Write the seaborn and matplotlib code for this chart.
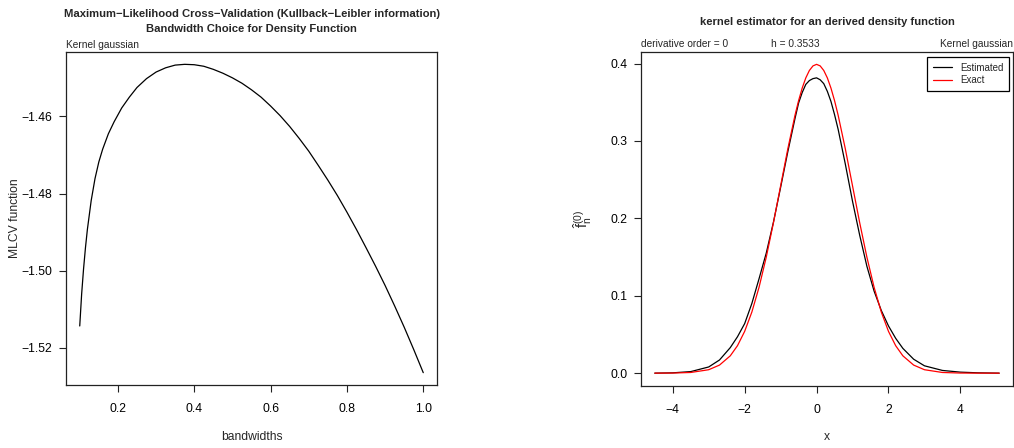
import matplotlib
matplotlib.use("Agg")
import matplotlib.pyplot as plt
import numpy as np
import pandas as pd
import seaborn as sns

# Maximum-likelihood cross-validation criterion over the bandwidth grid
bandwidths = [0.100, 0.105, 0.110, 0.115, 0.120, 0.130, 0.140, 0.150, 0.160, 0.175,
              0.190, 0.210, 0.230, 0.250, 0.275, 0.300, 0.325, 0.350, 0.375, 0.400,
              0.425, 0.450, 0.475, 0.500, 0.525, 0.550, 0.575, 0.600, 0.625, 0.650,
              0.675, 0.700, 0.725, 0.750, 0.775, 0.800, 0.825, 0.850, 0.875, 0.900,
              0.925, 0.950, 0.975, 1.000]
mlcv = [-1.5143, -1.5060, -1.4995, -1.4940, -1.4893, -1.4818, -1.4761, -1.4718, -1.4685, -1.4645,
        -1.4614, -1.4578, -1.4550, -1.4525, -1.4502, -1.4485, -1.4474, -1.4467, -1.4465, -1.4466,
        -1.4470, -1.4478, -1.4488, -1.4500, -1.4514, -1.4531, -1.4550, -1.4573, -1.4598, -1.4626,
        -1.4657, -1.4690, -1.4727, -1.4765, -1.4805, -1.4848, -1.4893, -1.4940, -1.4988, -1.5038,
        -1.5091, -1.5146, -1.5204, -1.5264]

# Kernel density estimate (h = 0.3533) and the exact N(0, 1) density
grid_x = [-4.5, -4.0, -3.5, -3.0, -2.7, -2.4, -2.2, -2.0, -1.8, -1.6,
          -1.4, -1.2, -1.0, -0.8, -0.6, -0.5, -0.4, -0.3, -0.2, -0.1,
          0.0, 0.1, 0.2, 0.3, 0.4, 0.5, 0.6, 0.8, 1.0, 1.2,
          1.4, 1.6, 1.8, 2.0, 2.2, 2.4, 2.7, 3.0, 3.5, 4.0,
          4.5, 5.08]
estimated = [0.0000, 0.0004, 0.0020, 0.0080, 0.0170, 0.0330, 0.0470, 0.0640, 0.0900, 0.1220,
             0.1550, 0.1950, 0.2400, 0.2860, 0.3290, 0.3490, 0.3625, 0.3730, 0.3780, 0.3805,
             0.3815, 0.3790, 0.3740, 0.3640, 0.3510, 0.3340, 0.3150, 0.2700, 0.2220, 0.1780,
             0.1380, 0.1060, 0.0810, 0.0610, 0.0450, 0.0320, 0.0180, 0.0095, 0.0035, 0.0013,
             0.0004, 0.0000]
exact = [0.00002, 0.00013, 0.00087, 0.00443, 0.01042, 0.02239, 0.03547, 0.05399, 0.07895, 0.11092,
         0.14973, 0.19419, 0.24197, 0.28969, 0.33322, 0.35207, 0.36827, 0.38139, 0.39104, 0.39695,
         0.39894, 0.39695, 0.39104, 0.38139, 0.36827, 0.35207, 0.33322, 0.28969, 0.24197, 0.19419,
         0.14973, 0.11092, 0.07895, 0.05399, 0.03547, 0.02239, 0.01042, 0.00443, 0.00087, 0.00013,
         0.00002, 0.00000]

bw_ticks = [0.2, 0.4, 0.6, 0.8, 1.0]
mlcv_ticks = [-1.52, -1.50, -1.48, -1.46]
x_ticks = [-4, -2, 0, 2, 4]
dens_ticks = [0.0, 0.1, 0.2, 0.3, 0.4]

sns.set_theme(style="ticks")
plt.rcParams["font.family"] = ["Liberation Sans", "DejaVu Sans"]
plt.rcParams["mathtext.default"] = "regular"

W, H = 1014, 448
fig = plt.figure(figsize=(W / 100, H / 100), dpi=100)
ax1 = fig.add_axes([66 / W, (H - 385) / H, 371 / W, 333 / H])
ax2 = fig.add_axes([641 / W, (H - 385.5) / H, 372 / W, 333.5 / H])

TITLE_FS = 8.15
SMALL_FS = 7.3
LABEL_FS = 8.7


def padded(vals):
    lo, hi = min(vals), max(vals)
    r = hi - lo
    return lo - 0.04 * r, hi + 0.04 * r


def style_axes(ax):
    for sp in ax.spines.values():
        sp.set_visible(True)
        sp.set_color("#222222")
        sp.set_linewidth(0.9)
    ax.tick_params(direction="out", length=5.2, width=0.8, color="#222222",
                   labelsize=LABEL_FS, labelcolor="black", pad=4.5)
    ax.tick_params(axis="x", pad=8)
    ax.grid(False)


# ---- left panel: MLCV function ----
sns.lineplot(x=bandwidths, y=mlcv, ax=ax1, color="black", linewidth=0.9, sort=False)
ax1.set_xlim(*padded(bandwidths))
ax1.set_ylim(*padded(mlcv))
ax1.set_xticks(bw_ticks)
ax1.set_xticklabels([f"{t:.1f}" for t in bw_ticks])
ax1.set_yticks(mlcv_ticks)
ax1.set_yticklabels([f"{t:.2f}".replace("-", "\u2212") for t in mlcv_ticks])
style_axes(ax1)
ax1.set_xlabel("bandwidths", fontsize=LABEL_FS)
ax1.set_ylabel("MLCV function", fontsize=LABEL_FS)
ax1.xaxis.set_label_coords(0.5, -(437 - 385) / 333)
ax1.xaxis.label.set_va("center")
ax1.yaxis.set_label_coords(-(66 - 15) / 371, 0.5)
ax1.yaxis.label.set_va("center")

fig.text(251.5 / W, 1 - 14 / H,
         "Maximum\u2212Likelihood Cross\u2212Validation (Kullback\u2212Leibler information)",
         ha="center", va="center", fontsize=TITLE_FS, fontweight="bold")
fig.text(251.5 / W, 1 - 29 / H, "Bandwidth Choice for Density Function",
         ha="center", va="center", fontsize=TITLE_FS, fontweight="bold")
ax1.text(0.0, 1 + (52 - 45) / 333, "Kernel gaussian", transform=ax1.transAxes,
         ha="left", va="center", fontsize=SMALL_FS)

# ---- right panel: estimated vs exact density ----
dens = pd.DataFrame({
    "x": grid_x * 2,
    "y": estimated + exact,
    "curve": ["Estimated"] * len(grid_x) + ["Exact"] * len(grid_x),
})
sns.lineplot(data=dens, x="x", y="y", hue="curve", ax=ax2,
             palette={"Estimated": "black", "Exact": "#ff0000"},
             linewidth=0.9, sort=False)
ax2.set_xlim(*padded(grid_x))
ax2.set_ylim(*padded(exact + estimated))
ax2.set_xticks(x_ticks)
ax2.set_xticklabels([str(t).replace("-", "\u2212") for t in x_ticks])
ax2.set_yticks(dens_ticks)
ax2.set_yticklabels([f"{t:.1f}" for t in dens_ticks])
style_axes(ax2)
ax2.set_xlabel("x", fontsize=LABEL_FS)
ax2.set_ylabel(r"$\hat{f}_n^{(0)}$", fontsize=10.5)
ax2.xaxis.set_label_coords(0.5, -(437 - 385.5) / 333.5)
ax2.xaxis.label.set_va("center")
ax2.yaxis.set_label_coords(-(641 - 583) / 372, 0.5)
ax2.yaxis.label.set_va("center")

handles, labels = ax2.get_legend_handles_labels()
leg = ax2.legend(handles, labels, loc="upper right",
                 bbox_to_anchor=(1 - 4 / 372, 1 - 4.7 / 333.5), borderaxespad=0,
                 fontsize=7.0, frameon=True, fancybox=False, framealpha=1,
                 handlelength=2.0, handletextpad=0.8, labelspacing=0.25,
                 borderpad=0.6)
leg.get_frame().set_edgecolor("black")
leg.get_frame().set_linewidth(0.9)
for ln in leg.get_lines():
    ln.set_linewidth(0.9)

fig.text(827 / W, 1 - 22 / H, "kernel estimator for an derived density function",
         ha="center", va="center", fontsize=TITLE_FS, fontweight="bold")
ax2.text(0.0, 1 + (52 - 44) / 333.5, "derivative order = 0", transform=ax2.transAxes,
         ha="left", va="center", fontsize=SMALL_FS)
ax2.text((795 - 641) / 372, 1 + (52 - 44) / 333.5, "h = 0.3533", transform=ax2.transAxes,
         ha="center", va="center", fontsize=SMALL_FS)
ax2.text(1.0, 1 + (52 - 44) / 333.5, "Kernel gaussian", transform=ax2.transAxes,
         ha="right", va="center", fontsize=SMALL_FS)

fig.savefig("out.png", dpi=100, facecolor="white")
